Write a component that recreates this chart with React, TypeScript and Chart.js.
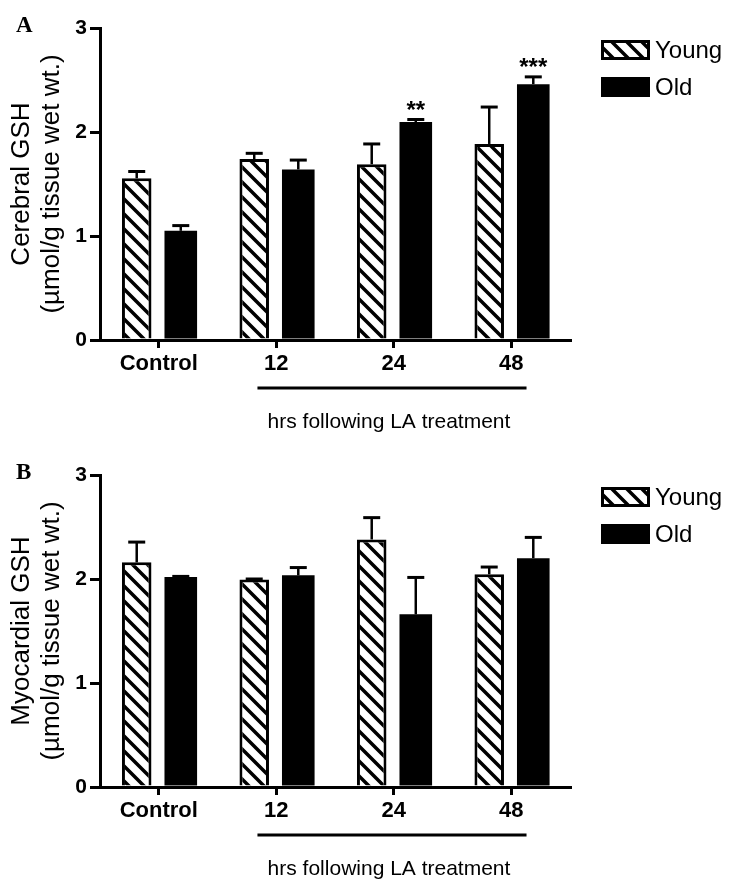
import React, { useEffect, useRef } from "react";
import { Chart, registerables } from "chart.js";

Chart.register(...registerables);

// ---------- data ----------
const categories = ["Control", "12", "24", "48"];
const seriesNames = ["Young", "Old"];
const yTickValues = [0, 1, 2, 3];

const cerebralYoung = [1.555, 1.74, 1.69, 1.885];
const cerebralYoungSem = [0.065, 0.055, 0.195, 0.355];
const cerebralOld = [1.05, 1.64, 2.095, 2.46];
const cerebralOldSem = [0.05, 0.09, 0.025, 0.07];
const cerebralOldStars = ["", "", "**", "***"];

const myocardialYoung = [2.16, 1.995, 2.38, 2.045];
const myocardialYoungSem = [0.195, 0.005, 0.21, 0.07];
const myocardialOld = [2.02, 2.035, 1.66, 2.2];
const myocardialOldSem = [0.005, 0.075, 0.355, 0.2];
const myocardialOldStars = ["", "", "", ""];

const titleA = ["Cerebral GSH", "(µmol/g tissue wet wt.)"];
const titleB = ["Myocardial GSH", "(µmol/g tissue wet wt.)"];
const groupTitle = "hrs following LA treatment";

const SANS = "'Liberation Sans', Arial, Helvetica, sans-serif";
const SERIF = "'Liberation Serif', 'Times New Roman', serif";

function makeHatch(): CanvasPattern | string {
  const s = 15;
  const c = document.createElement("canvas");
  c.width = s;
  c.height = s;
  const g = c.getContext("2d");
  if (!g) return "#fff";
  g.fillStyle = "#fff";
  g.fillRect(0, 0, s, s);
  g.strokeStyle = "#000";
  g.lineWidth = 3.5;
  g.beginPath();
  for (const k of [-1, 0, 1]) {
    g.moveTo(-4, -4 + k * s);
    g.lineTo(s + 4, s + 4 + k * s);
  }
  g.stroke();
  const p = g.createPattern(c, "repeat");
  return p || "#fff";
}

const decorPlugin = {
  id: "panelDecor",
  afterDatasetsDraw(chart: any, _args: any, opts: any) {
    const ctx: CanvasRenderingContext2D = chart.ctx;
    const y = chart.scales.y;
    ctx.save();
    ctx.strokeStyle = "#000";
    ctx.fillStyle = "#000";
    chart.data.datasets.forEach((ds: any, di: number) => {
      const meta = chart.getDatasetMeta(di);
      const sem: number[] = opts.sems[di];
      meta.data.forEach((bar: any, i: number) => {
        const v = ds.data[i] as number;
        const topPx = y.getPixelForValue(v + sem[i]);
        const barTop = bar.y;
        ctx.lineWidth = 2.5;
        ctx.beginPath();
        ctx.moveTo(bar.x, barTop);
        ctx.lineTo(bar.x, topPx);
        ctx.stroke();
        ctx.lineWidth = 3;
        ctx.beginPath();
        ctx.moveTo(bar.x - 8.5, topPx);
        ctx.lineTo(bar.x + 8.5, topPx);
        ctx.stroke();
        const star = opts.stars[di] ? opts.stars[di][i] : "";
        if (star) {
          ctx.font = `bold 24px ${SANS}`;
          ctx.textAlign = "center";
          ctx.textBaseline = "alphabetic";
          ctx.fillText(star, bar.x, topPx - 2);
        }
      });
    });
    ctx.restore();
  },
  afterDraw(chart: any, _args: any, opts: any) {
    const ctx: CanvasRenderingContext2D = chart.ctx;
    const area = chart.chartArea;
    const x = chart.scales.x;
    ctx.save();
    ctx.fillStyle = "#000";
    ctx.strokeStyle = "#000";

    // panel letter
    ctx.font = `bold 23px ${SERIF}`;
    ctx.textAlign = "left";
    ctx.textBaseline = "top";
    ctx.fillText(opts.letter, 16, 15);

    // legend
    const lx = area.right + 31;
    const boxW = 49;
    const boxH = 20;
    const rows = [area.top + 12, area.top + 49];
    chart.data.datasets.forEach((ds: any, di: number) => {
      const ty = rows[di];
      ctx.fillStyle = ds.backgroundColor;
      ctx.fillRect(lx, ty, boxW, boxH);
      ctx.lineWidth = 3;
      ctx.strokeStyle = "#000";
      ctx.strokeRect(lx + 1.5, ty + 1.5, boxW - 3, boxH - 3);
      ctx.fillStyle = "#000";
      ctx.font = `24px ${SANS}`;
      ctx.textAlign = "left";
      ctx.textBaseline = "middle";
      ctx.fillText(ds.label, lx + boxW + 5, ty + boxH / 2 + 1);
    });

    // bracket under the treatment groups
    const catW = (area.right - area.left) / categories.length;
    const x1 = x.getPixelForValue(1) - 0.16 * catW;
    const x2 = x.getPixelForValue(3) + 0.13 * catW;
    const ly = area.bottom + 48;
    ctx.lineWidth = 3;
    ctx.beginPath();
    ctx.moveTo(x1, ly);
    ctx.lineTo(x2, ly);
    ctx.stroke();
    ctx.font = `21px ${SANS}`;
    ctx.textAlign = "center";
    ctx.textBaseline = "middle";
    ctx.fillText(groupTitle, (x1 + x2) / 2 - 3, area.bottom + 82);
    ctx.restore();
  },
};

type PanelProps = {
  top: number;
  letter: string;
  title: string[];
  young: number[];
  youngSem: number[];
  old: number[];
  oldSem: number[];
  oldStars: string[];
};

function Panel(props: PanelProps) {
  const ref = useRef<HTMLCanvasElement | null>(null);
  useEffect(() => {
    if (!ref.current) return;
    const hatch = makeHatch();
    const chart = new Chart(ref.current, {
      type: "bar",
      data: {
        labels: categories,
        datasets: [
          {
            label: seriesNames[0],
            data: props.young,
            backgroundColor: hatch as any,
            borderColor: "#000",
            borderWidth: 3,
            borderSkipped: "bottom",
            categoryPercentage: 0.75,
            barPercentage: 0.67,
          },
          {
            label: seriesNames[1],
            data: props.old,
            backgroundColor: "#000",
            borderColor: "#000",
            borderWidth: 0,
            categoryPercentage: 0.75,
            barPercentage: 0.74,
          },
        ],
      },
      options: {
        responsive: false,
        animation: false,
        devicePixelRatio: 1,
        layout: { padding: { left: 6, right: 166, top: 28, bottom: 0 } },
        plugins: {
          legend: { display: false },
          tooltip: { enabled: false },
          panelDecor: {
            letter: props.letter,
            sems: [props.youngSem, props.oldSem],
            stars: [null, props.oldStars],
          },
        } as any,
        scales: {
          x: {
            offset: true,
            grid: {
              offset: false,
              drawOnChartArea: false,
              drawTicks: true,
              tickLength: 8,
              color: "#000",
              lineWidth: 3,
            },
            border: { color: "#000", width: 3 },
            ticks: {
              color: "#000",
              padding: 3,
              font: { family: SANS, size: 22, weight: "bold" },
            },
            afterFit: (s: any) => {
              s.height = 99;
            },
          },
          y: {
            min: yTickValues[0],
            max: yTickValues[yTickValues.length - 1],
            grid: {
              drawOnChartArea: false,
              drawTicks: true,
              tickLength: 10,
              color: "#000",
              lineWidth: 3,
            },
            border: { color: "#000", width: 3 },
            ticks: {
              stepSize: 1,
              color: "#000",
              padding: 3,
              font: { family: SANS, size: 21, weight: "bold" },
            },
            title: {
              display: true,
              text: props.title,
              color: "#000",
              font: { family: SANS, size: 26, lineHeight: 1.18 },
              padding: { top: 0, bottom: 0 },
            },
            afterFit: (s: any) => {
              s.width = 94;
            },
          },
        },
      } as any,
      plugins: [decorPlugin as any],
    });
    return () => chart.destroy();
  }, []);
  return (
    <canvas
      ref={ref}
      width={736}
      height={439}
      style={{ position: "absolute", left: 0, top: props.top, width: 736, height: 439 }}
    />
  );
}

export default function App() {
  return (
    <div
      style={{
        position: "absolute",
        left: 0,
        top: 0,
        width: 736,
        height: 886,
        background: "#fff",
        overflow: "hidden",
      }}
    >
      <Panel
        top={0}
        letter="A"
        title={titleA}
        young={cerebralYoung}
        youngSem={cerebralYoungSem}
        old={cerebralOld}
        oldSem={cerebralOldSem}
        oldStars={cerebralOldStars}
      />
      <Panel
        top={447}
        letter="B"
        title={titleB}
        young={myocardialYoung}
        youngSem={myocardialYoungSem}
        old={myocardialOld}
        oldSem={myocardialOldSem}
        oldStars={myocardialOldStars}
      />
    </div>
  );
}
